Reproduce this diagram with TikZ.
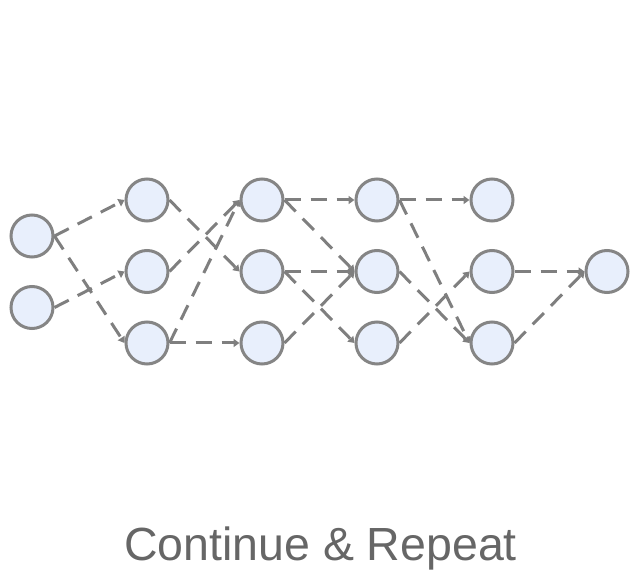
\documentclass[tikz,border=0pt]{standalone}
\usepackage{fontspec}
\newfontfamily\titlefont{Liberation Sans}
\usepackage{tikz}
\usetikzlibrary{arrows.meta}
\usetikzlibrary{positioning}

\definecolor{unitgray}{HTML}{858585}
\definecolor{unitfill}{HTML}{E8EFFC}
\definecolor{linkgray}{HTML}{7F7F7F}
\definecolor{titlegray}{HTML}{666666}

\begin{document}
\begin{tikzpicture}[unit/.style={circle,draw=unitgray, fill=unitfill,line width=3pt,inner sep=0pt, minimum size=42pt},
    link/.style={draw=linkgray, line width=3pt, dash pattern=on 16pt off 10pt, -{Triangle[length=6pt,width=8pt]}},
    every node/.style={node distance=26.5pt and 70pt}
    ]
    \useasboundingbox (0pt,0pt) rectangle (638pt,-572pt);
    \def\layers{A,B,C,D}
    \def\units{1,2,3}
    
    % inputs
    \node[unit] (I1) at (32pt,-236pt) {};
    \node[unit, below=of I1] (I2) {};
    
    \def\prevx{A}
    \foreach \x[count=\xi from 0, remember=\x as \prevx] in \layers {
        \def\prevy{}
        \foreach \y[count=\yi from 0, remember=\y as \prevy] in \units {
            % draw the units of this layer
            \ifnum \yi = 0
            \ifnum \xi = 0
            \node[unit] (\x\y) at (147pt,-200pt) {};
            \else 
            \node[unit, right=of \prevx\y] (\x\y) {};
            \fi
            \else 
            \node[unit, below=of \x\prevy] (\x\y) {};
            \fi
        }
    }
    
    % output
    \node[unit, right=of D2] (O) {};
    
    \path[every edge/.style={link}]
    (I1.east) edge (A1.west)
    (I1.east) edge (A3.west)
    (I2.east) edge (A2.west)
    ;
    
    \path[every edge/.style={link}]
    (A1.east) edge (B2.west)
    (A2.east) edge (B1.west)
    (A3.east) edge (B1.west)
    (A3.east) edge (B3.west)
    ;
    
    \path[every edge/.style={link}]
    (B1.east) edge (C1.west)
    (B1.east) edge (C2.west)
    (B2.east) edge (C2.west)
    (B2.east) edge (C3.west)
    (B3.east) edge (C2.west)
    ;
    
    \path[every edge/.style={link}]
    (C1.east) edge (D1.west)
    (C1.east) edge (D3.west)
    (C2.east) edge (D3.west)
    (C3.east) edge (D2.west)
    ;
    
    \path[every edge/.style={link}]
    (D2.east) edge (O.west)
    (D3.east) edge (O.west)
    ;
    
    \node[anchor=base, text=titlegray, font=\titlefont\fontsize{46.5pt}{50pt}\selectfont] (title) at (320.5pt,-560pt) {Continue \& Repeat};
    
\end{tikzpicture}
\end{document}
